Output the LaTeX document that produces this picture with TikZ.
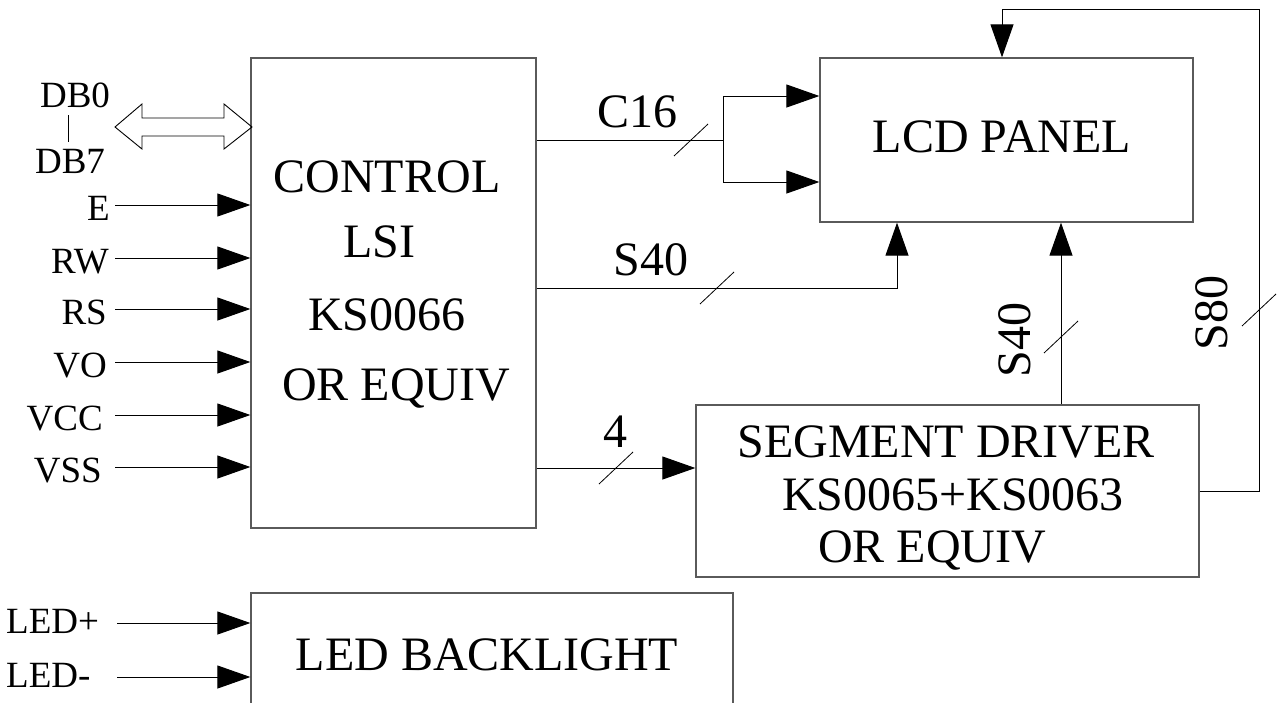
\documentclass[tikz,border=0pt]{standalone}
\usepackage{fontspec}
\setmainfont{Liberation Serif}
\usetikzlibrary{arrows.meta}
\definecolor{boxgray}{RGB}{90,90,90}
\tikzset{
  box/.style={draw=boxgray, line width=1.3pt, rectangle, inner sep=0pt},
  big/.style={font=\fontsize{48}{50}\selectfont, inner sep=0pt},
  pinlbl/.style={font=\fontsize{37}{40}\selectfont, inner sep=0pt},
  conn/.style={draw=black, line width=1pt},
  arr/.style={conn, -{Triangle[length=33pt,width=23pt]}},
  slash/.style={draw=black, line width=0.8pt},
}
\begin{document}
\begin{tikzpicture}[x=1pt,y=-1pt]
\useasboundingbox (0,0) rectangle (1279,702);
% boxes
\node[box, minimum width=285pt, minimum height=470pt] (ctl) at (393.5,293) {};
\node[box, minimum width=373pt, minimum height=164pt] (lcd) at (1006.5,140) {};
\node[box, minimum width=503pt, minimum height=172pt] (seg) at (947.5,491) {};
\node[box, minimum width=482pt, minimum height=140pt] (led) at (492,663) {};
% box texts
\node[big, anchor=base] (t1) at (387,192) {CONTROL};
\node[big, anchor=base] (t2) at (379,257) {LSI};
\node[big, anchor=base] (t3) at (387,330) {KS0066};
\node[big, anchor=base] (t4) at (396,400) {OR EQUIV};
\node[big, anchor=base] (t5) at (1002,152) {LCD PANEL};
\node[big, anchor=base] (t6) at (946,457) {SEGMENT DRIVER};
\node[big, anchor=base] (t7) at (953,510) {KS0065+KS0063};
\node[big, anchor=base] (t8) at (932,562) {OR EQUIV};
\node[big, anchor=base] (t9) at (487,670) {LED BACKLIGHT};
% data bus
\node[pinlbl, anchor=base] (db0) at (75,107) {DB0};
\node[pinlbl, anchor=base] (db7) at (70,173) {DB7};
\draw[conn, line width=0.8pt] (68,115) -- (68,142);
\draw[draw=black, line width=0.9pt, line join=miter]
  (115,127) -- (142,104) -- (142,118) -- (224,118) -- (224,104) -- (252,127)
  -- (224,149) -- (224,136) -- (142,136) -- (142,149) -- cycle;
% pins
\foreach \nm/\lbl/\yy/\xe in {pE/E/205/110, pRW/RW/258/109, pRS/RS/309/107, pVO/VO/362/107, pVCC/VCC/415/103, pVSS/VSS/467/102}{
  \node[pinlbl, anchor=base east] (l\nm) at (\xe,\yy+15) {\lbl};
  \coordinate (\nm) at (115,\yy);
  \draw[arr] (\nm) -- (ctl.west |- \nm);
}
\node[pinlbl, anchor=base west] (lledp) at (6,633) {LED+};
\node[pinlbl, anchor=base west] (lledm) at (6,687) {LED-};
\coordinate (ledp) at (117,623);
\coordinate (ledm) at (117,677);
\draw[arr] (ledp) -- (led.west |- ledp);
\draw[arr] (ledm) -- (led.west |- ledm);
% C16
\coordinate (c16s) at (ctl.east |- 0,140);
\coordinate (jn) at (723,140);
\draw[conn] (c16s) -- (jn);
\draw[arr] (jn) -- (723,96) -- (lcd.west |- 0,96);
\draw[arr] (jn) -- (723,182) -- (lcd.west |- 0,182);
\draw[slash] (691,140) ++(-17,16) -- ++(34,-32);
\node[big, anchor=base] (lc16) at (637,127) {C16};
% S40 from control
\coordinate (s40s) at (ctl.east |- 0,288);
\draw[arr] (s40s) -- (897,288) -- (lcd.south -| 897,0);
\draw[slash] (717,288) ++(-17,16) -- ++(34,-32);
\node[big, anchor=base] (ls40a) at (651,275) {S40};
% 4 bits to segment driver
\coordinate (s4s) at (ctl.east |- 0,468);
\draw[arr] (s4s) -- (seg.west |- s4s);
\draw[slash] (616,468) ++(-17,16) -- ++(34,-32);
\node[big, anchor=base] (l4) at (615,447) {4};
% S40 from segment driver
\draw[arr] (seg.north -| 1061,0) -- (lcd.south -| 1061,0);
\draw[slash] (1061,337) ++(-17,16) -- ++(34,-32);
\node[big, rotate=90] (ls40b) at (1015,340) {S40};
% S80 loop
\coordinate (s80s) at (seg.east |- 0,491);
\draw[arr] (s80s) -- (1259,491) -- (1259,9) -- (1002,9) -- (lcd.north -| 1002,0);
\draw[slash] (1259,310) ++(-17,16) -- ++(34,-32);
\node[big, rotate=90] (ls80) at (1212,313) {S80};
\end{tikzpicture}
\end{document}
